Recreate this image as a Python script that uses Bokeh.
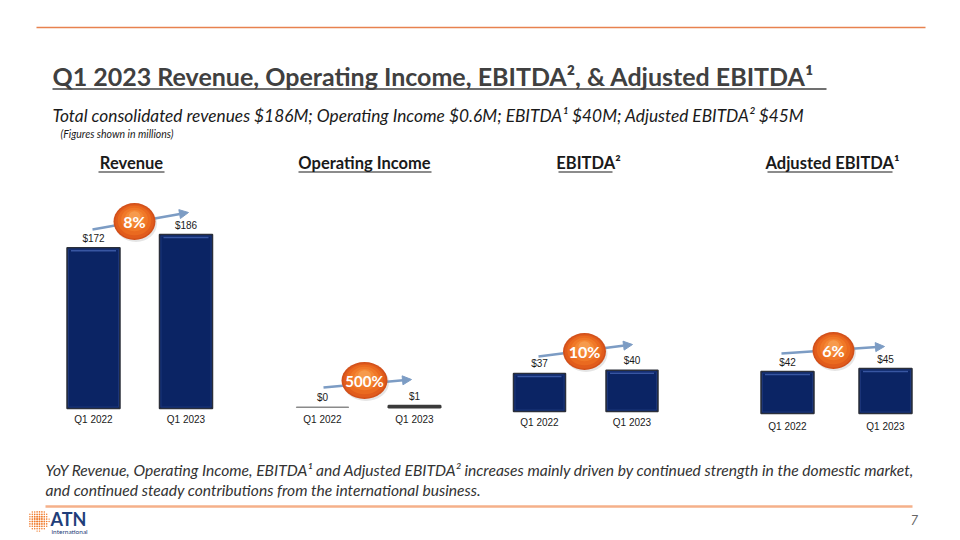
from bokeh.plotting import figure
from bokeh.models import Range1d, Arrow, NormalHead
from bokeh.core.properties import value
from bokeh.embed import file_html
from bokeh.resources import INLINE
import numpy as np

# ---------------- data ----------------
periods = ["Q1 2022", "Q1 2023"]
panel_titles = ["Revenue", "Operating Income", "EBITDA²", "Adjusted EBITDA¹"]
revenue = [172, 186]
revenue_labels = ["$172", "$186"]
op_income = [0.1, 0.6]
op_income_labels = ["$0", "$1"]
ebitda = [37, 40]
ebitda_labels = ["$37", "$40"]
adj_ebitda = [42, 45]
adj_ebitda_labels = ["$42", "$45"]
growth_labels = ["8%", "500%", "10%", "6%"]

title = "Q1 2023 Revenue, Operating Income, EBITDA², & Adjusted EBITDA¹"
subtitle = "Total consolidated revenues $186M; Operating Income $0.6M; EBITDA¹ $40M; Adjusted EBITDA² $45M"
note = "(Figures shown in millions)"
footer1 = "YoY Revenue, Operating Income, EBITDA¹ and Adjusted EBITDA² increases mainly driven by continued strength in the domestic market,"
footer2 = "and continued steady contributions from the international business."

# ---------------- layout (screen-like coordinates of the slide) ----------------
W, H = 960, 540
X0, Y0 = 0, 0
FONT = value("Lato")
NUM_FONT = value("Liberation Sans")
DARK = "#404040"

p = figure(width=W, height=H, x_range=Range1d(X0, X0 + W), y_range=Range1d(Y0 + H, Y0),
           output_backend="svg", toolbar_location=None, min_border=0,
           x_axis_location=None, y_axis_location=None)
p.grid.visible = False
p.outline_line_color = None
p.background_fill_color = "white"
p.border_fill_color = "white"

# top rule and bottom rule
p.segment(x0=[36], y0=[27], x1=[925], y1=[27], line_color="#E8824F", line_width=1.5)
p.segment(x0=[45], y0=[506], x1=[912], y1=[506], line_color="#F5B08A", line_width=2.5)

# title
p.text(x=[52], y=[75], text=[title], text_font=FONT, text_font_style="bold",
       text_font_size="25px", text_color=DARK, text_baseline="middle", text_align="left")
p.segment(x0=[52], y0=[88.5], x1=[826], y1=[88.5], line_color=DARK, line_width=1.5)

p.text(x=[52], y=[115], text=[subtitle], text_font=FONT, text_font_style="italic",
       text_font_size="17.3px", text_color="#1a1a1a", text_baseline="middle", text_align="left")
p.text(x=[60], y=[133], text=[note], text_font=FONT, text_font_style="italic",
       text_font_size="10.5px", text_color="#1a1a1a", text_baseline="middle", text_align="left")

# panel titles
pt_x = [131, 364, 588, 832]
pt_under = [(98, 164), (298, 431), (558, 612), (767, 892)]
p.text(x=pt_x, y=[162] * 4, text=panel_titles, text_font=FONT, text_font_style="bold",
       text_font_size="16.5px", text_color="#1a1a1a", text_baseline="middle", text_align="center")
p.segment(x0=[u[0] for u in pt_under], y0=[171.5] * 4, x1=[u[1] for u in pt_under], y1=[171.5] * 4,
          line_color="#1a1a1a", line_width=1.2)

# ---------------- panels: each has its own scale ----------------
# (centre of first bar, centre of second bar, baseline y, pixels per $M, bar width px)
panels = [
    (93, 185.5, 408, 0.935, 53, revenue, revenue_labels, 5),
    (322, 414, 407, 3.0, 52, op_income, op_income_labels, 6),
    (539, 631.5, 411, 1.03, 52, ebitda, ebitda_labels, 5),
    (787, 885, 413, 1.0, 53, adj_ebitda, adj_ebitda_labels, 7),
]
p.extra_x_ranges = {}
p.extra_y_ranges = {}
for i, (c0, c1, base, k, bw, vals, labs, cat_off) in enumerate(panels):
    unit = c1 - c0
    xs = -(c0 - X0) / unit
    p.extra_x_ranges[f"x{i}"] = Range1d(xs, xs + W / unit)
    p.extra_y_ranges[f"y{i}"] = Range1d((base - (Y0 + H)) / k, (base - Y0) / k)
    kw = dict(x_range_name=f"x{i}", y_range_name=f"y{i}")
    idx = list(range(len(vals)))
    if i == 1:
        p.vbar(x=idx, top=vals, bottom=0, width=bw / unit, fill_color="#555555",
               line_color=["#8a8a8a", "#3a3a3a"], line_width=[1.2, 2], **kw)
    else:
        p.vbar(x=idx, top=vals, bottom=0, width=bw / unit, fill_color="#0B2464",
               line_color="#2b2f3a", line_width=1.5, **kw)
        # bevel highlight near the top edge
        p.segment(x0=[j - (bw / 2 - 4) / unit for j in idx], y0=[v - 3 / k for v in vals],
                  x1=[j + (bw / 2 - 4) / unit for j in idx], y1=[v - 3 / k for v in vals],
                  line_color="#3D5CA8", line_width=1.5, line_alpha=0.9, **kw)
        p.vbar(x=idx, top=[v - 1.5 / k for v in vals], bottom=[1.5 / k] * 2,
               width=(bw - 3) / unit, fill_color=None, line_color="#1B3478", line_width=1, **kw)
    p.text(x=idx, y=vals, text=labs, y_offset=-4, text_font=NUM_FONT, text_font_size="10px",
           text_color="#1a1a1a", text_baseline="bottom", text_align="center", **kw)
    p.text(x=idx, y=[0, 0], text=periods, y_offset=cat_off, text_font=NUM_FONT,
           text_font_size="10px", text_color="#1a1a1a", text_baseline="top", text_align="center", **kw)

# growth arrows (behind bubbles)
arrows = [((92, 229), (188, 212)), ((323, 387), (411, 379)),
          ((538, 356), (632, 344)), ((781, 353), (884, 346))]
for (sx, sy), (ex, ey) in arrows:
    p.add_layout(Arrow(x_start=sx, y_start=sy, x_end=ex, y_end=ey, line_color="#7C9CC4",
                       line_width=2.5, level="underlay",
                       end=NormalHead(size=9, fill_color="#7C9CC4", line_color="#7C9CC4")))

# growth bubbles (orange with radial shading)
bub = [(134, 221), (364, 380), (584, 351), (833, 350)]
bub_w = [42, 46, 43, 42]
bx = [b[0] for b in bub]
by = [b[1] for b in bub]
layers = [(1.0, "#D2501A", 0.0), (0.92, "#E15C1C", 0.0), (0.8, "#EA6A20", -0.5),
          (0.64, "#F07828", -1.0), (0.46, "#F48734", -1.5), (0.28, "#F69A4C", -2.5)]
p.ellipse(x=[x + 1.5 for x in bx], y=[y + 2 for y in by], width=bub_w, height=37,
          width_units="screen", height_units="screen", fill_color="#999999", fill_alpha=0.25,
          line_color=None)
for s, col, dy in layers:
    p.ellipse(x=bx, y=[y + dy * 2 for y in by], width=[w * s for w in bub_w], height=37 * s,
              width_units="screen", height_units="screen", fill_color=col, line_color=None)
p.text(x=bx, y=by, text=growth_labels, text_font=FONT, text_font_style="bold",
       text_font_size=["16px", "15px", "16px", "16px"], text_color="white",
       text_baseline="middle", text_align="center")

# footer text
p.text(x=[45, 45], y=[469, 489], text=[footer1, footer2], text_font=FONT, text_font_style="italic",
       text_font_size="15.6px", text_color="#333333", text_baseline="middle", text_align="left")

# page number
p.text(x=[910], y=[519], text=["7"], text_font=FONT, text_font_style="italic",
       text_font_size="13px", text_color="#666666", text_baseline="middle", text_align="left")

# ATN logo: dotted orange globe + wordmark
gx, gy = np.meshgrid(np.arange(-11, 11.1, 2.4), np.arange(-11, 11.1, 2.4))
gx, gy = gx.ravel(), gy.ravel()
m = gx ** 2 + gy ** 2 <= 11 ** 2
rr = np.sqrt(gx[m] ** 2 + gy[m] ** 2)
p.scatter(x=38 + gx[m], y=520 + gy[m], size=2.3 - 0.08 * rr, marker="circle",
          fill_color="#F07A2A", line_color=None)
p.text(x=[50], y=[518], text=["ATN"], text_font=FONT, text_font_style="bold",
       text_font_size="18px", text_color="#1F3E7A", text_baseline="middle", text_align="left")
p.text(x=[51], y=[531], text=["international"], text_font=FONT,
       text_font_size="6.5px", text_color="#1F3E7A", text_baseline="middle", text_align="left")

open("out.html", "w").write(file_html(p, INLINE))
